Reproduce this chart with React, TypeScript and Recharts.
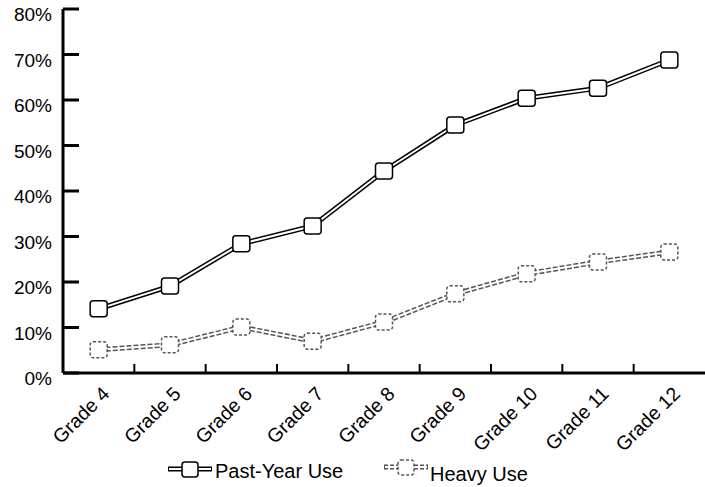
import React from "react";
import { LineChart, Line, XAxis, YAxis, Legend } from "recharts";

const grades = ["Grade 4", "Grade 5", "Grade 6", "Grade 7", "Grade 8", "Grade 9", "Grade 10", "Grade 11", "Grade 12"];
const pastYearUse = [14.1, 19.1, 28.4, 32.3, 44.4, 54.5, 60.4, 62.6, 68.8];
const heavyUse = [5.1, 6.2, 10.1, 7.0, 11.2, 17.4, 21.8, 24.4, 26.6];
const yTicks = [0, 10, 20, 30, 40, 50, 60, 70, 80];

const data = grades.map((g, i) => ({ grade: g, past: pastYearUse[i], heavy: heavyUse[i] }));

const FONT = "'Liberation Sans', Arial, sans-serif";
const BAND = 642 / grades.length;

function SquareDot(props: any) {
  const { cx, cy, dashed } = props;
  if (cx == null || cy == null) return null;
  return (
    <rect
      x={cx - 8.5}
      y={cy - 8}
      width={17}
      height={16}
      rx={3}
      fill="#fff"
      stroke={dashed ? "#555" : "#000"}
      strokeWidth={1.5}
      strokeDasharray={dashed ? "3 2" : undefined}
    />
  );
}

function YTick(props: any) {
  const { x, y, payload } = props;
  return (
    <g>
      <line x1={x} x2={x + 16} y1={y} y2={y} stroke="#000" strokeWidth={3} />
      <text x={x - 11} y={y + 12} textAnchor="end" fontFamily={FONT} fontSize={19} fill="#000">
        {payload.value}%
      </text>
    </g>
  );
}

function XTick(props: any) {
  const { x, y, payload, index } = props;
  const tx = x + 12;
  const ty = y + 22;
  return (
    <g>
      {index < grades.length - 1 && (
        <line x1={x + BAND / 2} x2={x + BAND / 2} y1={y} y2={y - 9} stroke="#000" strokeWidth={2} />
      )}
      <text
        x={tx}
        y={ty}
        textAnchor="end"
        fontFamily={FONT}
        fontSize={19.5}
        fill="#000"
        transform={`rotate(-45 ${tx} ${ty})`}
      >
        {payload.value}
      </text>
    </g>
  );
}

function LegendIcon({ dashed }: { dashed?: boolean }) {
  const c = dashed ? "#555" : "#000";
  const da = dashed ? "3 2" : undefined;
  return (
    <svg width={46} height={18} style={{ display: "block" }}>
      <line x1={1} x2={45} y1={8} y2={8} stroke={c} strokeWidth={5} strokeDasharray={dashed ? "4 2" : undefined} />
      <line x1={2} x2={44} y1={8} y2={8} stroke="#fff" strokeWidth={2} />
      <rect x={15} y={1} width={16} height={15} rx={3} fill="#fff" stroke={c} strokeWidth={1.5} strokeDasharray={da} />
    </svg>
  );
}

function LegendContent() {
  return (
    <div style={{ position: "relative", height: 30, fontFamily: FONT, fontSize: 20, color: "#000" }}>
      <div style={{ position: "absolute", left: 167, top: 1, display: "flex", alignItems: "center" }}>
        <LegendIcon />
        <span style={{ marginLeft: 2, marginTop: 3, lineHeight: "20px" }}>Past-Year Use</span>
      </div>
      <div style={{ position: "absolute", left: 383, top: 2, display: "flex", alignItems: "flex-start" }}>
        <LegendIcon dashed />
        <span style={{ marginLeft: 1, marginTop: 5, lineHeight: "20px" }}>Heavy Use</span>
      </div>
    </div>
  );
}

export default function App() {
  return (
    <div style={{ position: "absolute", left: 0, top: 0, background: "#fff" }}>
      <LineChart width={705} height={487} data={data} margin={{ top: 9, right: 0, left: 0, bottom: 0 }}>
        <XAxis
          dataKey="grade"
          scale="band"
          interval={0}
          tick={<XTick />}
          tickLine={false}
          tickSize={0}
          tickMargin={0}
          axisLine={{ stroke: "#000", strokeWidth: 3 }}
          height={84}
        />
        <YAxis
          domain={[0, 80]}
          ticks={yTicks}
          interval={0}
          tick={<YTick />}
          tickLine={false}
          tickSize={0}
          tickMargin={0}
          axisLine={{ stroke: "#000", strokeWidth: 3 }}
          width={63}
        />
        <Legend
          verticalAlign="bottom"
          content={<LegendContent />}
          wrapperStyle={{ left: 0, width: 705, height: 30, bottom: 0 }}
        />
        <Line dataKey="heavy" stroke="#555" strokeWidth={5} strokeDasharray="5 2" dot={false} isAnimationActive={false} legendType="none" />
        <Line dataKey="heavy" stroke="#fff" strokeWidth={2} dot={<SquareDot dashed />} isAnimationActive={false} legendType="none" />
        <Line dataKey="past" stroke="#000" strokeWidth={5} dot={false} isAnimationActive={false} legendType="none" />
        <Line dataKey="past" stroke="#fff" strokeWidth={2} dot={<SquareDot />} isAnimationActive={false} legendType="none" />
      </LineChart>
    </div>
  );
}
